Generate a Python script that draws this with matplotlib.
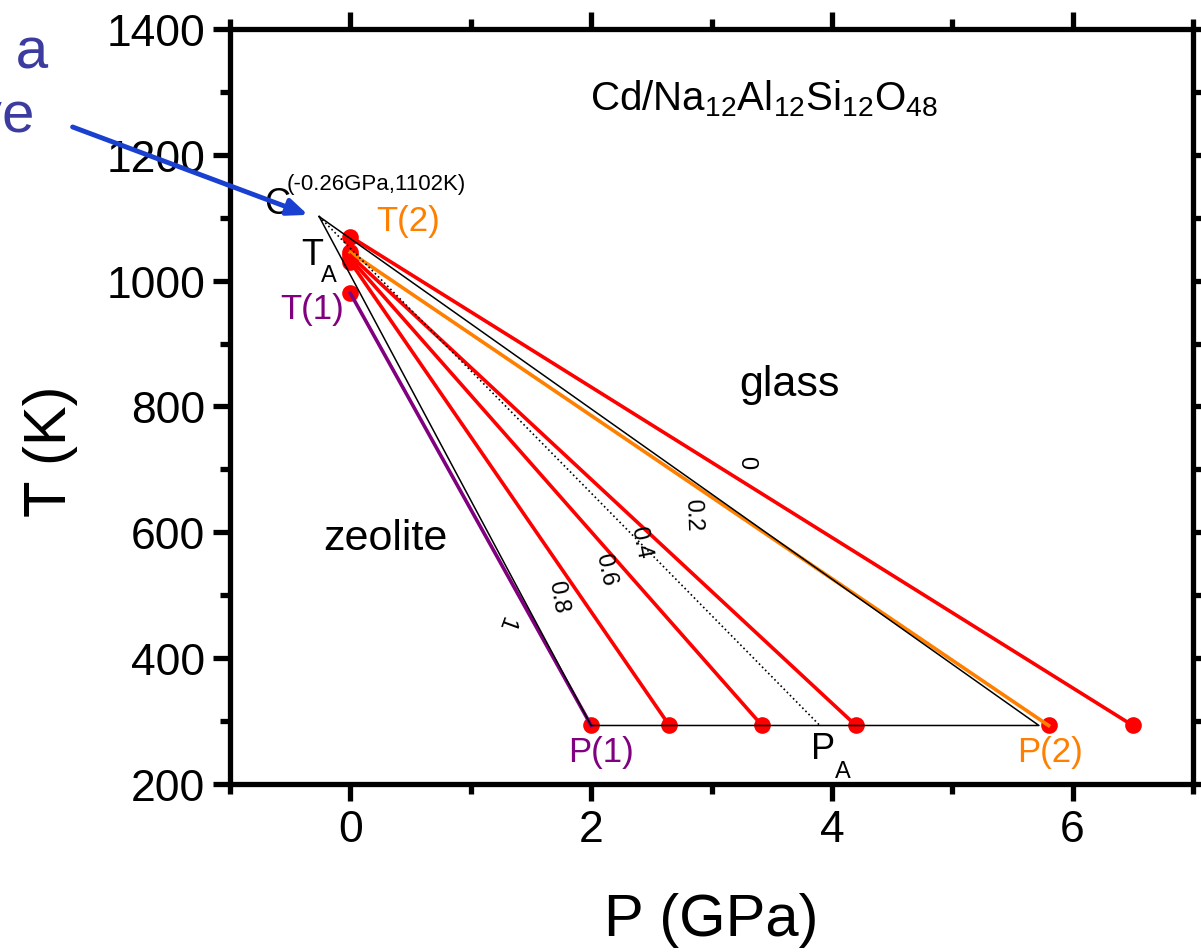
import numpy as np
import matplotlib
matplotlib.use("Agg")
from matplotlib import pyplot as plt

plt.rcParams['font.family'] = ['Liberation Sans', 'DejaVu Sans']
plt.rcParams['mathtext.fontset'] = 'custom'
plt.rcParams['mathtext.rm'] = 'Liberation Sans'
plt.rcParams['mathtext.it'] = 'Liberation Sans:italic'

# quench paths: start at P=0 (T), end at room temperature (P)
T_start = [1070, 1045, 1040, 1035, 1030, 980]
P_end = [6.5, 5.8, 4.2, 3.42, 2.65, 2.0]
T_room = 293
path_labels = ['0', '0.2', '0.4', '0.6', '0.8', '1']
path_colors = ['#ff0000', '#ff8000', '#ff0000', '#ff0000', '#ff0000', '#800080']
# label anchor points (P, T) and rotations
label_P = [3.29, 2.84, 2.41, 2.12, 1.72, 1.29]
label_T = [712, 629, 585, 542, 499, 457]
label_rot = [-90, -88, -78, -78, -80, -110]

# critical point C and boundary triangle
C_P, C_T = -0.26, 1102
tri_P = [C_P, 2.0, 5.72, C_P]
tri_T = [C_T, T_room, T_room, C_T]
PA = 3.9

fig = plt.figure(figsize=(12.01, 9.53), dpi=100)
ax = fig.add_axes([230/1201, 1-785/953, 963/1201, 755/953])

# dots at both ends
ax.plot([0]*len(T_start), T_start, 'o', color='#ff0000', ms=12, mec='none', zorder=2)
ax.plot(P_end, [T_room]*len(P_end), 'o', color='#ff0000', ms=12, mec='none', zorder=2)

for ts, pe, c in zip(T_start, P_end, path_colors):
    ax.plot([0, pe], [ts, T_room], '-', color=c, lw=2.6, zorder=3)

ax.plot(tri_P, tri_T, '-', color='black', lw=1.1, zorder=4)
ax.plot([C_P, PA], [C_T, T_room], ':', color='black', lw=1.2, zorder=4)

for lab, px, py, r in zip(path_labels, label_P, label_T, label_rot):
    ax.text(px, py, lab, fontsize=17, rotation=r, ha='center', va='center')

ax.set_xlim(-1, 7)
ax.set_ylim(200, 1400)
ax.set_xticks([0, 2, 4, 6])
ax.set_xticks(np.arange(-1, 8, 1), minor=True)
ax.set_yticks(np.arange(200, 1401, 200))
ax.set_yticks(np.arange(200, 1401, 100), minor=True)
ax.tick_params(which='both', direction='out', top=True, right=True, width=3.8,
               labelsize=32, pad=6)
ax.tick_params(which='major', length=12)
ax.tick_params(which='minor', length=7)
for s in ax.spines.values():
    s.set_linewidth(3.8)

ax.set_xlabel('P (GPa)', fontsize=43)
ax.set_ylabel('T (K)', fontsize=43)
ax.xaxis.set_label_coords(0.5, -0.143)
ax.yaxis.set_label_coords(-0.158, 0.442)

# annotations
ax.text(3.44, 1273, r'Cd/Na$_{12}$Al$_{12}$Si$_{12}$O$_{48}$', fontsize=29,
        ha='center', va='baseline')
ax.text(3.65, 836, 'glass', fontsize=31, ha='center', va='center')
ax.text(0.29, 591, 'zeolite', fontsize=31, ha='center', va='center')
ax.text(-0.61, 1122, 'C', fontsize=26, ha='center', va='center')
ax.text(-0.53, 1154, '(-0.26GPa,1102K)', fontsize=16, ha='left', va='center')
ax.text(0.48, 1095, 'T(2)', fontsize=25, ha='center', va='center', color='#ff8000')
ax.text(-0.32, 1042, 'T', fontsize=26, ha='center', va='center')
ax.text(-0.18, 1009, 'A', fontsize=17, ha='center', va='center')
ax.text(-0.32, 955, 'T(1)', fontsize=25, ha='center', va='center', color='#800080')
ax.text(2.08, 251, 'P(1)', fontsize=25, ha='center', va='center', color='#800080')
ax.text(3.93, 256, 'P', fontsize=26, ha='center', va='center')
ax.text(4.09, 221, 'A', fontsize=17, ha='center', va='center')
ax.text(5.81, 251, 'P(2)', fontsize=25, ha='center', va='center', color='#ff8000')

# blue note at top left, cut off by the figure edge as in the source slide
fig.text(48/1201, 1-68/953, 'close to a', fontsize=42, color='#3c3ca0',
         ha='right', va='baseline')
fig.text(34/1201, 1-132/953, 'critical curve', fontsize=42, color='#3c3ca0',
         ha='right', va='baseline')
ax.annotate('', xy=(-0.33, 1103), xycoords='data',
            xytext=(70/1201, 1-127/953), textcoords='figure fraction',
            arrowprops=dict(arrowstyle='-|>,head_length=1.2,head_width=0.5',
                            color='#1a40d0', lw=3.5),
            annotation_clip=False)

fig.savefig('out.png', dpi=100)
